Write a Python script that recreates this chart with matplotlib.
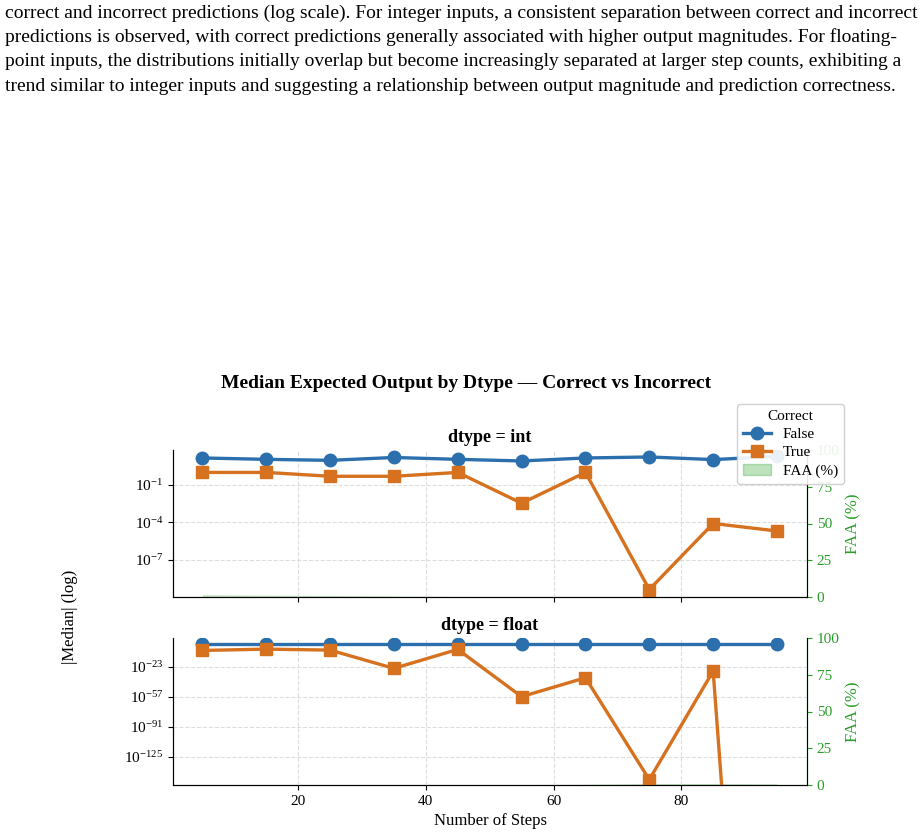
import matplotlib.pyplot as plt
import matplotlib
import numpy as np
from matplotlib.lines import Line2D
from matplotlib.patches import Patch

steps = [5, 15, 25, 35, 45, 55, 65, 75, 85, 95]
int_false_log = [1.16, 1.05, 0.97, 1.2, 1.05, 0.92, 1.16, 1.24, 1.03, 1.29]
int_true_log = [0.0, 0.0, -0.31, -0.31, 0.0, -2.47, 0.0, -9.4, -4.1, -4.7]
float_false_log = [2.2, 2.2, 2.2, 2.2, 2.2, 2.2, 2.2, 2.2, 2.2, 2.2]
float_true_log = [-4.7, -3.2, -4.3, -25, -3.5, -57, -35.6, -150.9, -28]
float_true_last = 0.0
int_faa = [1.5, 1.2, 1.0, 0.6, 0.4, 0.3, 0.2, 0.2, 0.2, 0.2]
float_faa = [0.2, 0.2, 0.2, 0.2, 0.2, 0.3, 0.5, 1.0, 1.0, 0.8]

caption = [
    "correct and incorrect predictions (log scale). For integer inputs, a consistent separation between correct and incorrect",
    "predictions is observed, with correct predictions generally associated with higher output magnitudes. For floating-",
    "point inputs, the distributions initially overlap but become increasingly separated at larger step counts, exhibiting a",
    "trend similar to integer inputs and suggesting a relationship between output magnitude and prediction correctness.",
]

matplotlib.rcParams['font.family'] = 'Liberation Serif'
blue = '#2c6fad'
orange = '#d5711f'
green = '#2a9d2a'

fig = plt.figure(figsize=(9.23, 8.4), dpi=100)
for i, line in enumerate(caption):
    fig.text(0.005, 1 - (13 + i * 24.5) / 840, line, fontsize=14.0, va='center', ha='left')

fig.text(0.505, 1 - 384 / 840, 'Median Expected Output by Dtype — Correct vs Incorrect',
         fontsize=14, fontweight='bold', ha='center', va='center')
fig.text(70 / 923, 1 - 617 / 840, '|Median| (log)', rotation=90, fontsize=12, ha='center', va='center')

ax1 = fig.add_axes([173 / 923, 1 - 597 / 840, 634 / 923, 147 / 840])
ax2 = fig.add_axes([173 / 923, 1 - 785 / 840, 634 / 923, 147 / 840], sharex=ax1)

float_true = [10.0 ** v for v in float_true_log] + [float_true_last]
panels = [
    (ax1, 'dtype = int', [10.0 ** v for v in int_false_log], [10.0 ** v for v in int_true_log], int_faa, (1e-10, 10 ** 1.8)),
    (ax2, 'dtype = float', [10.0 ** v for v in float_false_log], float_true, float_faa, (1e-157, 10 ** 9.4)),
]
for ax, title, f, t, faa, ylim in panels:
    axr = ax.twinx()
    axr.fill_between(steps, 0, faa, color=green, alpha=0.3, linewidth=0)
    axr.set_ylim(0, 100)
    axr.set_ylabel('FAA (%)', color=green, fontsize=12)
    axr.tick_params(axis='y', colors=green, labelsize=11)
    axr.spines['right'].set_color(green)
    axr.spines['top'].set_visible(False)
    ax.set_zorder(axr.get_zorder() + 1)
    ax.patch.set_visible(False)
    ax.set_yscale('log')
    ax.plot(steps, f, color=blue, marker='o', linewidth=2.4, markersize=9)
    ax.plot(steps, t, color=orange, marker='s', linewidth=2.4, markersize=9)
    ax.set_ylim(*ylim)
    ax.set_title(title, fontsize=13, fontweight='bold', pad=6)
    ax.grid(True, linestyle='--', color='#dddddd', linewidth=0.8)
    ax.spines['top'].set_visible(False)
    ax.tick_params(labelsize=11)

ax1.set_yticks([1e-7, 1e-4, 1e-1])
ax1.minorticks_off()
ax2.set_yticks([1e-125, 1e-91, 1e-57, 1e-23])
ax2.minorticks_off()
ax1.set_xlim(0.4, 99.7)
ax1.set_xticks([20, 40, 60, 80])
plt.setp(ax1.get_xticklabels(), visible=False)
ax2.set_xlabel('Number of Steps', fontsize=12)

handles = [Line2D([], [], color=blue, marker='o', linewidth=2.4, markersize=9),
           Line2D([], [], color=orange, marker='s', linewidth=2.4, markersize=9),
           Patch(color=green, alpha=0.3)]
fig.legend(handles, ['False', 'True', 'FAA (%)'], title='Correct', fontsize=11, title_fontsize=11,
           loc='upper right', bbox_to_anchor=(852 / 923, 1 - 396 / 840), framealpha=0.9,
           handlelength=1.8, labelspacing=0.3, borderpad=0.4)

fig.savefig('out.png', dpi=100)
